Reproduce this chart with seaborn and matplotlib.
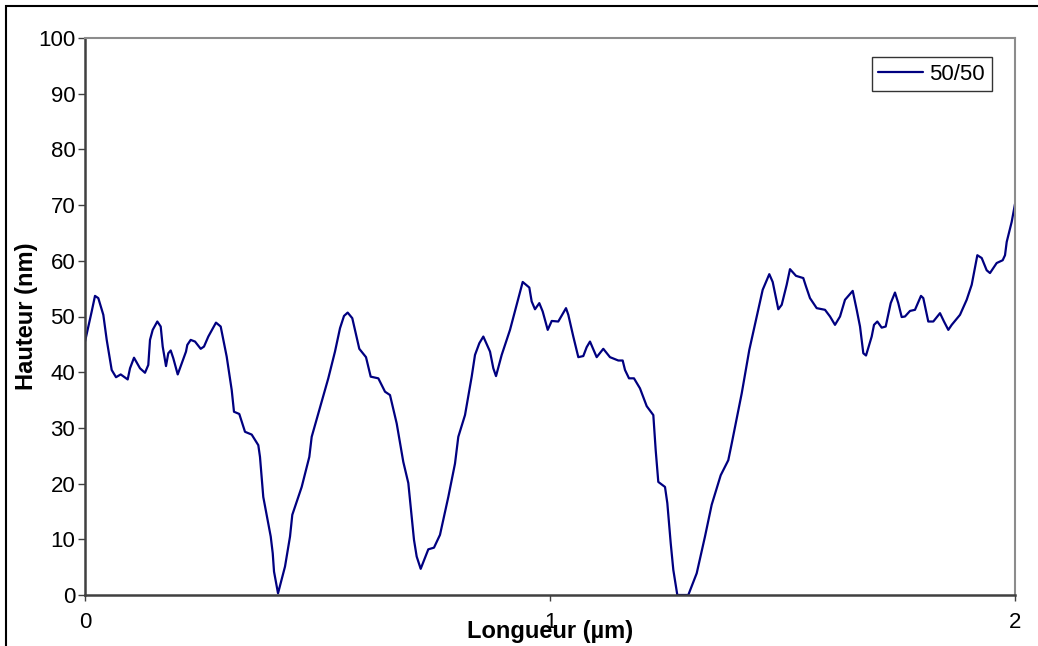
import matplotlib
matplotlib.use("Agg")
import matplotlib.pyplot as plt
import matplotlib.patches as patches
import seaborn as sns
import pandas as pd

# profile 50/50 : longueur (um) / hauteur (nm)
longueur = [
    0.000, 0.0144, 0.0215, 0.0286, 0.0394, 0.0467, 0.0538, 0.0574, 0.0667, 0.0768,
    0.0918, 0.0968, 0.1054, 0.1183, 0.1290, 0.1361, 0.1398, 0.1456, 0.1555, 0.1628,
    0.1671, 0.1742, 0.1791, 0.1843, 0.1899, 0.1994, 0.2172, 0.2200, 0.2273, 0.2366,
    0.2488, 0.2559, 0.2652, 0.2817, 0.2918, 0.3047, 0.3155, 0.3204, 0.3318, 0.3441,
    0.3585, 0.3727, 0.3763, 0.3834, 0.3994, 0.4037, 0.4065, 0.4151, 0.4301, 0.4409,
    0.4458, 0.4660, 0.4824, 0.4875, 0.5017, 0.5232, 0.5376, 0.5484, 0.5570, 0.5649,
    0.5748, 0.5899, 0.6043, 0.6144, 0.6308, 0.6452, 0.6559, 0.6703, 0.6845, 0.6953,
    0.7004, 0.7075, 0.7133, 0.7219, 0.7383, 0.7505, 0.7634, 0.7813, 0.7957, 0.8028,
    0.8172, 0.8316, 0.8387, 0.8480, 0.8566, 0.8710, 0.8781, 0.8839, 0.8961, 0.9140,
    0.9284, 0.9413, 0.9555, 0.9606, 0.9677, 0.9770, 0.9843, 0.9951, 1.0037, 1.0178,
    1.0344, 1.0394, 1.0501, 1.0609, 1.0716, 1.0789, 1.0860, 1.1004, 1.1146, 1.1290,
    1.1469, 1.1563, 1.1613, 1.1699, 1.1806, 1.1935, 1.2080, 1.2222, 1.2273, 1.2329,
    1.2473, 1.2523, 1.2596, 1.2652, 1.2738, 1.2974, 1.3155, 1.3333, 1.3477, 1.3671,
    1.3834, 1.3908, 1.4123, 1.4286, 1.4445, 1.4574, 1.4716, 1.4789, 1.4910, 1.4983,
    1.5090, 1.5161, 1.5290, 1.5447, 1.5505, 1.5591, 1.5735, 1.5914, 1.6022, 1.6129,
    1.6237, 1.6344, 1.6510, 1.6596, 1.6667, 1.6738, 1.6796, 1.6918, 1.6968, 1.7039,
    1.7133, 1.7219, 1.7327, 1.7419, 1.7490, 1.7563, 1.7634, 1.7742, 1.7849, 1.7978,
    1.8028, 1.8135, 1.8243, 1.8387, 1.8473, 1.8566, 1.8639, 1.8817, 1.8961, 1.9069,
    1.9190, 1.9284, 1.9391, 1.9462, 1.9606, 1.9735, 1.9785, 1.9822, 1.9929, 2.0000,
]
hauteur = [
    45.5, 50.9, 53.7, 53.3, 50.3, 45.8, 42.2, 40.4, 39.1, 39.6,
    38.7, 40.7, 42.6, 40.7, 39.9, 41.3, 45.8, 47.6, 49.1, 48.2,
    44.6, 41.1, 43.4, 43.9, 42.5, 39.6, 43.7, 44.9, 45.8, 45.5,
    44.2, 44.6, 46.4, 48.9, 48.2, 42.8, 36.8, 32.9, 32.5, 29.3,
    28.8, 26.9, 24.8, 17.6, 10.5, 7.5, 4.2, 0.3, 5.1, 10.5,
    14.4, 19.4, 24.8, 28.4, 32.6, 38.9, 43.7, 47.9, 50.1, 50.7,
    49.7, 44.2, 42.7, 39.2, 38.9, 36.5, 35.9, 30.8, 23.9, 20.1,
    15.9, 9.9, 6.9, 4.7, 8.2, 8.5, 10.8, 17.6, 23.6, 28.4,
    32.3, 39.2, 43.1, 45.2, 46.4, 43.7, 40.7, 39.3, 43.1, 47.6,
    52.1, 56.2, 55.2, 52.7, 51.3, 52.4, 50.9, 47.6, 49.2, 49.1,
    51.5, 50.3, 46.4, 42.7, 42.9, 44.5, 45.5, 42.7, 44.2, 42.7,
    42.1, 42.1, 40.4, 38.9, 38.9, 37.1, 33.9, 32.3, 26.0, 20.3,
    19.4, 16.5, 9.3, 4.5, 0.0, 0.0, 3.9, 10.5, 16.2, 21.5,
    24.2, 27.2, 36.2, 44.0, 50.0, 54.8, 57.6, 56.2, 51.3, 52.1,
    55.7, 58.5, 57.3, 56.9, 55.4, 53.3, 51.5, 51.2, 50.0, 48.5,
    50.0, 53.0, 54.6, 51.2, 48.2, 43.4, 43.0, 46.4, 48.5, 49.1,
    48.0, 48.2, 52.4, 54.3, 52.4, 49.9, 50.0, 51.0, 51.2, 53.7,
    53.3, 49.1, 49.1, 50.6, 49.1, 47.6, 48.5, 50.3, 53.0, 55.7,
    61.0, 60.5, 58.3, 57.8, 59.6, 60.1, 61.0, 63.4, 67.0, 70.2,
]
serie = "50/50"
x_ticks = [0, 1, 2]
y_ticks = list(range(0, 101, 10))

df = pd.DataFrame({"Longueur": longueur, "Hauteur": hauteur})

sns.set_style("white")
plt.rcParams["font.family"] = ["Liberation Sans", "DejaVu Sans"]
plt.rcParams["text.color"] = "black"
plt.rcParams["axes.labelcolor"] = "black"
plt.rcParams["xtick.labelcolor"] = "black"
plt.rcParams["ytick.labelcolor"] = "black"

fig = plt.figure(figsize=(10.38, 6.46), dpi=100)
ax = fig.add_axes([85 / 1038, 51 / 646, 930 / 1038, 557 / 646])

sns.lineplot(data=df, x="Longueur", y="Hauteur", sort=False, estimator=None,
             color="#000080", linewidth=1.6, label=serie, ax=ax)

ax.set_xlim(0, 2)
ax.set_ylim(0, 100)
ax.set_xticks(x_ticks)
ax.set_yticks(y_ticks)

ax.tick_params(axis="y", direction="out", length=5, width=1, color="#404040",
               labelsize=16, pad=2, left=True, labelcolor="black")
ax.tick_params(axis="x", direction="out", length=4, width=1, color="#404040",
               labelsize=16, pad=8, bottom=True, labelcolor="black")

for side in ["left", "bottom"]:
    ax.spines[side].set_color("#404040")
    ax.spines[side].set_linewidth(1.8)
for side in ["top", "right"]:
    ax.spines[side].set_color("#8c8c8c")
    ax.spines[side].set_linewidth(1.5)

ax.set_xlabel("Longueur (µm)", fontsize=17, fontweight="bold", labelpad=-9,
              color="black")
ax.set_ylabel("Hauteur (nm)", fontsize=17, fontweight="bold", labelpad=0,
              color="black")

leg = ax.legend(loc="upper right", bbox_to_anchor=(0.975, 0.966), fontsize=16,
                frameon=True, fancybox=False, shadow=False, handlelength=2.0,
                borderpad=0.3, handletextpad=0.3, borderaxespad=0)
leg.get_frame().set_edgecolor("black")
leg.get_frame().set_linewidth(1.0)

# chart area border
fig.add_artist(patches.Rectangle((6 / 1038, -0.5), 2, 0.5 + 1 - 6 / 646,
                                 transform=fig.transFigure, fill=False,
                                 edgecolor="black", linewidth=1.5))

fig.savefig("out.png", dpi=100)
